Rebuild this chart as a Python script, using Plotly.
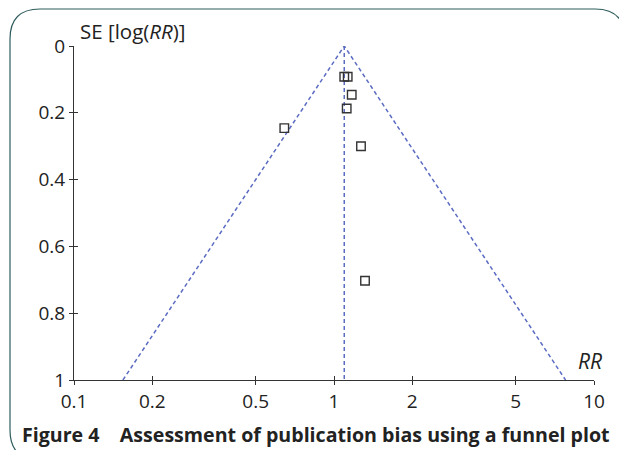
import math
import plotly.graph_objects as go

# ---- data ----
rr_values = [1.095, 1.129, 1.17, 1.119, 0.644, 1.27, 1.316]
se_values = [0.092, 0.092, 0.146, 0.187, 0.246, 0.300, 0.703]
pooled_rr = 1.095
se_max = 1.0
x_tick_vals = [0.1, 0.2, 0.5, 1, 2, 5, 10]
x_tick_text = ["0.1", "0.2", "0.5", "1", "2", "5", "10"]
y_tick_vals = [0, 0.2, 0.4, 0.6, 0.8, 1]
y_tick_text = ["0", "0.2", "0.4", "0.6", "0.8", "1"]

# page body has an 8px margin; figure coordinates = page coordinates - 8
OFF = 8
W, H = 619, 442
ML, MT = 74 - OFF, 46 - OFF
PR, PB = 594 - OFF, 380 - OFF
MR, MB = W - PR, H - PB
pw, ph = PR - ML, PB - MT

def px(xp):  # page pixel -> paper x
    return (xp - OFF - ML) / pw

def py(yp):  # page pixel -> paper y
    return (PB - (yp - OFF)) / ph

FONT = "Open Sans"
TXT = "#222222"
LINE_BLUE = "#5a6bc2"
DASH = "4px,3px"

lo = math.exp(math.log(pooled_rr) - 1.96 * se_max)
hi = math.exp(math.log(pooled_rr) + 1.96 * se_max)

fig = go.Figure()
fig.add_trace(go.Scatter(x=[lo, pooled_rr, hi], y=[se_max, 0, se_max], mode="lines",
                         line=dict(color=LINE_BLUE, width=1.5, dash=DASH), hoverinfo="skip"))
fig.add_trace(go.Scatter(x=[pooled_rr, pooled_rr], y=[0, se_max], mode="lines",
                         line=dict(color=LINE_BLUE, width=1.5, dash=DASH), hoverinfo="skip"))
fig.add_trace(go.Scatter(x=rr_values, y=se_values, mode="markers",
                         marker=dict(symbol="square-open", size=8.5, color="#333333",
                                     line=dict(width=1.4, color="#333333"))))
# invisible trace for overlay axes (inner tick halves)
fig.add_trace(go.Scatter(x=[1], y=[0.5], xaxis="x2", yaxis="y2", mode="markers",
                         marker=dict(opacity=0), hoverinfo="skip"))

axis_common = dict(showgrid=False, zeroline=False, showline=True, linecolor="#333333",
                   linewidth=1, tickcolor="#333333", ticklen=4, tickwidth=1)

fig.update_layout(
    width=W, height=H, margin=dict(l=ML, r=MR, t=MT, b=MB),
    paper_bgcolor="white", plot_bgcolor="white", showlegend=False,
    font=dict(family=FONT, color=TXT, size=19),
    xaxis=dict(type="log", range=[-1, 1], tickvals=x_tick_vals, ticktext=x_tick_text,
               ticks="outside", tickfont=dict(size=19, color=TXT), **axis_common),
    yaxis=dict(range=[1, 0], tickvals=y_tick_vals, ticktext=y_tick_text,
               ticks="outside", tickfont=dict(size=19, color=TXT), **axis_common),
    xaxis2=dict(type="log", range=[-1, 1], tickvals=x_tick_vals, overlaying="x",
                anchor="y2", side="bottom", ticks="inside", showticklabels=False, **axis_common),
    yaxis2=dict(range=[1, 0], tickvals=y_tick_vals, overlaying="y", anchor="x2",
                side="left", ticks="inside", showticklabels=False, **axis_common),
)

fig.add_annotation(xref="paper", yref="paper", x=px(78), y=py(31), xanchor="left", yanchor="middle",
                   text="SE [log(<i>RR</i>)]", showarrow=False, font=dict(size=20.5, color=TXT))
fig.add_annotation(xref="paper", yref="paper", x=px(604), y=py(361), xanchor="right", yanchor="middle",
                   text="<i>RR</i>", showarrow=False, font=dict(size=21, color=TXT))
fig.add_annotation(xref="paper", yref="paper", x=px(315.5), y=py(434), xanchor="center", yanchor="middle",
                   text="<b>Figure 4&nbsp;&nbsp;&nbsp;&nbsp;Assessment of publication bias using a funnel plot</b>",
                   showarrow=False, font=dict(size=19.6, color=TXT))

# rounded border frame (page pixel coordinates)
L, T, R, B, r = 10, 9, 625, 460, 30
rx, ry = r / pw, r / ph
path = (f"M {px(L)+rx},{py(T)} L {px(R)-rx},{py(T)} Q {px(R)},{py(T)} {px(R)},{py(T)-ry} "
        f"L {px(R)},{py(B)+ry} Q {px(R)},{py(B)} {px(R)-rx},{py(B)} "
        f"L {px(L)+rx},{py(B)} Q {px(L)},{py(B)} {px(L)},{py(B)+ry} "
        f"L {px(L)},{py(T)-ry} Q {px(L)},{py(T)} {px(L)+rx},{py(T)} Z")
fig.add_shape(type="path", xref="paper", yref="paper", path=path,
              line=dict(color="#2f5c5c", width=1.2), layer="below")

fig.write_html("out.html")
